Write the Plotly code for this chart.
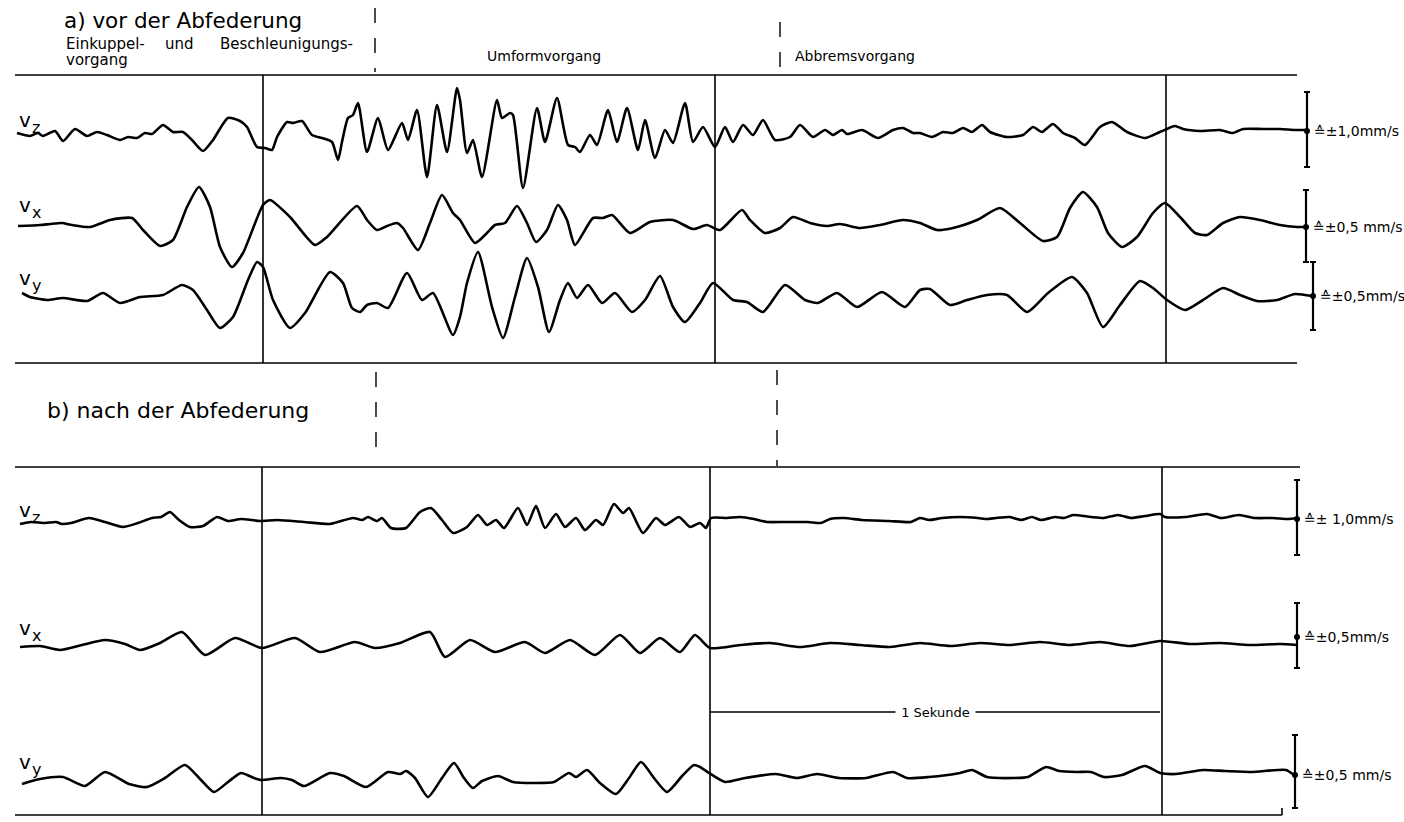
import plotly.graph_objects as go

# ---------------- data (time in chart units, deflection in chart units, + = up) ----------------
# a) vor der Abfederung
a_vz_t = [17,30,38,43,55,63,75,87,97,107,120,128,137,145,152,163,173,183,192,203,213,228,240,247,257,265,272,277,287,293,302,312,322,332,338,342,348,353,358,367,378,388,402,408,417,427,437,447,457,460,467,473,482,497,502,510,513,523,537,545,557,568,575,580,590,597,608,617,627,638,645,655,665,673,685,693,703,715,725,733,743,753,763,775,790,800,813,825,833,842,847,862,878,893,903,913,920,932,943,953,963,972,982,990,1007,1023,1033,1042,1053,1063,1075,1085,1100,1112,1127,1145,1160,1175,1183,1200,1220,1233,1243,1263,1280,1295,1306]
a_vz_a = [0,-3,0,-3,2,-8,4,-3,1,-2,-7,-4,-5,0,-1,8,1,1,-7,-18,-7,15,12,6,-14,-15,-17,-4,11,10,12,-2,-5,-9,-27,-9,15,18,30,-19,15,-17,10,-7,23,-44,28,-19,45,33,-20,-7,-44,33,15,20,18,-55,25,-9,35,-12,-14,-19,-2,-12,23,-9,25,-17,13,-25,3,-10,30,-9,6,-14,6,-9,8,-2,13,-7,-4,8,-4,3,-2,3,-1,3,-5,3,5,0,0,-4,1,0,5,1,8,1,-4,-2,6,1,9,0,-5,-12,6,11,1,-5,1,7,4,2,3,0,4,4,4,3,3]

a_vx_t = [18,40,50,62,72,90,110,132,143,160,173,187,199,210,220,232,243,263,270,290,315,327,357,367,377,387,397,403,418,430,442,453,460,475,487,495,505,517,527,536,547,558,567,575,593,603,612,630,650,673,693,707,720,742,750,765,780,793,810,827,840,860,880,903,920,937,953,977,1000,1020,1043,1057,1070,1083,1097,1108,1122,1137,1153,1165,1180,1195,1207,1223,1240,1260,1280,1297,1306]
a_vx_a = [0,1,2,3,1,-1,6,8,-4,-20,-14,19,39,19,-21,-41,-27,21,26,9,-19,-11,20,6,-4,0,3,-2,-24,3,31,13,6,-17,-7,1,3,20,3,-16,-4,21,6,-19,8,8,11,-7,4,6,-3,1,-4,16,6,-7,-2,9,3,0,2,-2,1,6,3,-4,-2,6,18,3,-15,-11,18,34,19,-7,-21,-11,13,23,9,-7,-9,3,9,6,1,-1,-1]

a_vy_t = [22,30,47,63,87,103,120,140,163,182,193,207,220,233,248,257,263,273,290,305,330,343,352,360,367,377,388,407,422,433,453,460,467,478,492,503,515,527,538,549,560,568,577,588,602,615,632,645,660,673,685,700,713,733,747,763,785,805,818,837,857,882,905,920,930,950,967,987,1007,1027,1048,1072,1087,1103,1120,1140,1153,1167,1185,1203,1223,1240,1257,1277,1295,1312]
a_vy_a = [4,0,-3,-1,-4,4,-6,0,2,12,7,-13,-31,-20,17,35,30,-3,-31,-16,25,14,-11,-15,-8,-6,-11,24,-3,4,-38,-20,14,45,-10,-41,0,39,10,-35,-3,14,-1,12,-6,4,-15,-3,21,-10,-25,-6,14,-3,-5,-15,12,-3,-6,4,-10,5,-10,7,8,-8,-3,2,2,-15,4,20,4,-30,-8,16,9,-3,-13,-3,9,2,-4,-3,3,1]

# b) nach der Abfederung
b_vz_t = [20,31,45,56,62,71,89,105,123,138,152,161,170,179,190,203,217,228,241,260,277,304,330,353,362,368,377,382,391,406,420,431,442,453,467,478,487,496,504,518,527,536,545,556,565,576,585,596,603,614,623,629,643,656,665,679,690,700,706,711,727,740,754,767,785,808,821,830,844,862,889,911,920,929,942,960,978,987,996,1010,1021,1032,1041,1055,1064,1073,1091,1104,1118,1131,1145,1160,1165,1185,1207,1221,1239,1255,1273,1288,1297]
b_vz_a = [-4,-2,-3,-2,-4,-3,2,-2,-7,-3,2,3,8,0,-7,-6,3,-1,1,-1,0,-2,-4,2,0,3,-1,2,-8,-8,8,12,0,-13,-7,5,-5,0,-8,12,-5,14,-8,6,-7,2,-10,0,-5,16,7,12,-13,2,-5,3,-7,-3,-8,2,2,3,1,-2,-2,-2,-3,1,2,0,-1,-2,2,0,2,3,2,1,2,3,0,3,0,3,2,5,3,2,5,2,4,6,3,3,6,2,5,2,2,1,2]

b_vx_t = [20,40,60,82,105,125,140,160,182,205,235,262,295,320,355,375,400,430,445,470,495,525,545,570,595,620,640,660,680,695,710,740,770,800,830,860,890,920,950,980,1010,1040,1070,1100,1130,1160,1190,1220,1250,1280,1297]
b_vx_a = [-2,-1,-5,0,5,1,-5,2,13,-10,7,-3,7,-7,3,-3,2,13,-12,5,-7,3,-8,5,-10,10,-8,7,-7,10,-3,0,2,-2,2,0,-2,2,-1,2,0,3,0,3,-1,4,1,2,0,1,0]

b_vy_t = [22,40,63,85,105,129,147,165,185,201,214,228,241,254,261,281,292,304,330,344,366,388,400,406,415,428,442,454,464,473,482,498,513,536,554,569,576,587,600,616,629,641,654,667,683,694,700,709,725,745,776,797,817,839,866,893,907,929,960,972,987,1014,1028,1046,1059,1077,1091,1104,1122,1145,1160,1176,1203,1225,1252,1286,1294]
b_vy_a = [-7,-2,0,-9,5,-7,-10,-1,12,-3,-15,-5,4,-1,-3,-1,-3,-9,4,1,-10,5,3,6,-1,-20,-1,14,-1,-11,-4,1,-5,-6,-5,4,0,7,-6,-17,-1,15,-1,-15,2,12,10,4,-5,-1,3,-1,3,-1,-1,5,-1,0,4,7,0,-1,0,10,6,5,5,0,2,11,4,3,7,6,5,7,2]

trace_labels = ["z", "x", "y"]
scale_texts_a = ["≙±1,0mm/s", "≙±0,5 mm/s", "≙±0,5mm/s"]
scale_texts_b = ["≙± 1,0mm/s", "≙±0,5mm/s", "≙±0,5 mm/s"]
phase_words = ["Einkuppel-", "und", "Beschleunigungs-", "vorgang"]
phase_labels = ["Umformvorgang", "Abbremsvorgang"]

# ---------------- layout constants ----------------
W, H = 1404, 822
FONT = "DejaVu Sans, sans-serif"
LW = 2.6

baselines_a = [133, 226, 297]
baselines_b = [520, 645, 777]
series_a = [(a_vz_t, a_vz_a), (a_vx_t, a_vx_a), (a_vy_t, a_vy_a)]
series_b = [(b_vz_t, b_vz_a), (b_vx_t, b_vx_a), (b_vy_t, b_vy_a)]

fig = go.Figure()
for base, (t, a) in list(zip(baselines_a, series_a)) + list(zip(baselines_b, series_b)):
    fig.add_trace(go.Scatter(x=t, y=[base - v for v in a], mode="lines",
                             line=dict(color="black", width=LW, shape="spline", smoothing=0.6),
                             hoverinfo="skip", showlegend=False))

shapes = []
def hline(x0, x1, y, w=1.6):
    shapes.append(dict(type="line", x0=x0, x1=x1, y0=y, y1=y, line=dict(color="black", width=w)))
def vline(x, y0, y1, w=1.6, dash=None):
    d = dict(color="black", width=w)
    if dash:
        d["dash"] = dash
    shapes.append(dict(type="line", x0=x, x1=x, y0=y0, y1=y1, line=d))

# panel a frame
hline(15, 1297, 75)
hline(15, 1297, 363)
for x in (263, 715, 1166):
    vline(x, 75, 363)
vline(375, 8, 72, 1.4, "longdash")
vline(780, 22, 75, 1.4, "longdash")
# panel b frame
hline(15, 1300, 467)
hline(15, 1282, 815)
vline(1282, 808, 815)
for x in (262, 710, 1162):
    vline(x, 467, 815)
vline(376, 372, 462, 1.4, "longdash")
vline(777, 370, 466, 1.4, "longdash")
# 1 Sekunde bar
hline(710, 1160, 712, 1.4)

# scale bars (x, top, bottom, dot y)
bars = [(1307, 92, 167, 131), (1306, 190, 262, 227), (1313, 262, 330, 296),
        (1297, 480, 555, 519), (1297, 603, 668, 637), (1295, 735, 808, 775)]
for (x, y0, y1, yd) in bars:
    vline(x, y0, y1, 2.2)
    hline(x - 3, x + 3, y0, 2)
    hline(x - 3, x + 3, y1, 2)
fig.add_trace(go.Scatter(x=[b[0] for b in bars], y=[b[3] for b in bars], mode="markers",
                         marker=dict(color="black", size=6), hoverinfo="skip", showlegend=False))

ann = []
def text(x, y, s, size, anchor="left", bg=None):
    d = dict(x=x, y=y, text=s, showarrow=False, xanchor=anchor, yanchor="middle",
             font=dict(family=FONT, size=size, color="black"), align="left")
    if bg:
        d["bgcolor"] = bg
    ann.append(d)

text(62, 20, "a) vor der Abfederung", 21.5)
text(64, 44, phase_words[0], 15)
text(163, 44, phase_words[1], 15)
text(218, 44, phase_words[2], 15)
text(64, 60, phase_words[3], 15)
text(485, 56, phase_labels[0], 14)
text(793, 56, phase_labels[1], 14)
text(45, 410, "b) nach der Abfederung", 22)

for lab, y in zip(trace_labels, [120, 205, 278]):
    text(17, y, "v", 20)
    text(30, y + 7, lab, 16)
for lab, y in zip(trace_labels, [510, 628, 762]):
    text(17, y, "v", 20)
    text(30, y + 7, lab, 16)

for (x, y0, y1, yd), s in zip(bars, scale_texts_a + scale_texts_b):
    text(x + 5, yd, s, 14)

text(935, 712, " 1 Sekunde ", 13, anchor="center", bg="white")

fig.update_layout(width=W, height=H, margin=dict(l=0, r=0, t=0, b=0),
                  paper_bgcolor="white", plot_bgcolor="white",
                  shapes=shapes, annotations=ann, showlegend=False)
fig.update_xaxes(range=[0, W], visible=False, fixedrange=True)
fig.update_yaxes(range=[H, 0], visible=False, fixedrange=True)
fig.write_html("out.html")
